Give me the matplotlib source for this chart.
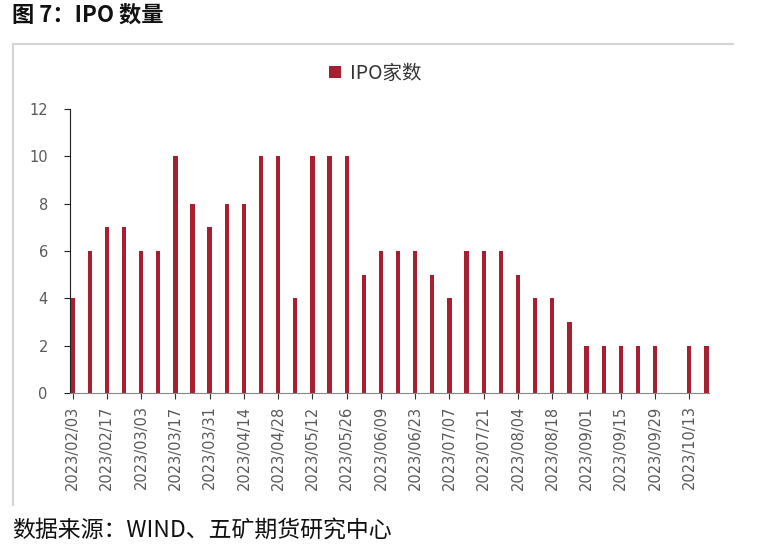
import numpy as np
import pandas as pd
import matplotlib
matplotlib.use('Agg')
from matplotlib import pyplot as plt
from matplotlib.lines import Line2D

plt.rcParams['font.family'] = ['Noto Sans CJK SC', 'DejaVu Sans']

# weekly IPO counts
dates = pd.date_range('2023-02-03', '2023-10-20', freq='7D')
ipo_counts = [4, 6, 7, 7, 6, 6, 10, 8, 7, 8, 8, 10, 10, 4, 10, 10, 10, 5, 6,
              6, 6, 5, 4, 6, 6, 6, 5, 4, 4, 3, 2, 2, 2, 2, 2, 0, 2, 2]
labels = [d.strftime('%Y/%m/%d') for d in dates]
series_name = 'IPO家数'
title = '图 7：IPO 数量'
source = '数据来源：WIND、五矿期货研究中心'

bar_color = '#A91F32'
tick_color = '#595959'

fig = plt.figure(figsize=(7.76, 5.44), dpi=100)
ax = fig.add_axes([0.0902, 0.2776, 0.8235, 0.522])

x = np.arange(len(ipo_counts))
ax.bar(x, ipo_counts, width=0.25, color=bar_color, label=series_name, zorder=2)

ax.set_xlim(-0.15, len(ipo_counts) - 0.85)
ax.set_ylim(0, 12)
ax.set_yticks(np.arange(0, 13, 2))
ax.set_xticks(x[::2])
ax.set_xticklabels(labels[::2], rotation=90, family='DejaVu Sans',
                   fontsize=10.5, color=tick_color)
for t in ax.get_yticklabels():
    t.set_family('DejaVu Sans')
    t.set_fontsize(10.5)
    t.set_color(tick_color)

ax.spines['top'].set_visible(False)
ax.spines['right'].set_visible(False)
ax.spines['left'].set_color('#222222')
ax.spines['bottom'].set_color('#888888')
ax.tick_params(axis='y', length=4, pad=12, color='#222222')
ax.tick_params(axis='x', length=4, pad=5, color='#333333')

ax.legend(loc='lower center', bbox_to_anchor=(0.478, 1.028), frameon=False,
          fontsize=14, handlelength=0.6, handleheight=0.6, handletextpad=0.5,
          labelcolor='#333333')

# outer frame (top and left only)
fr = '#d4d4d4'
fig.add_artist(Line2D([0.0168, 0.9446], [0.919, 0.919], color=fr, lw=1.5,
                      transform=fig.transFigure))
fig.add_artist(Line2D([0.0168, 0.0168], [0.919, 0.0717], color=fr, lw=1.5,
                      transform=fig.transFigure))

fig.text(0.0155, 0.972, title, fontsize=16, fontweight='bold', va='center',
         ha='left', color='#111111')
fig.text(0.0155, 0.024, source, fontsize=16.5, va='center', ha='left',
         color='#111111')

fig.savefig('out.png', dpi=100)
